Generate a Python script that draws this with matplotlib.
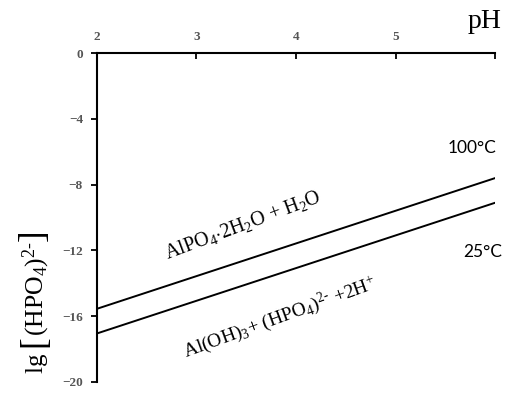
import matplotlib
matplotlib.use("Agg")
import matplotlib.pyplot as plt

# data
ph = [2, 6]
lg_100 = [-15.55, -7.6]
lg_25 = [-17.05, -9.1]
xticks = [2, 3, 4, 5, 6]
xticklabels = ["2", "3", "4", "5", ""]
yticks = [0, -4, -8, -12, -16, -20]

plt.rcParams['mathtext.fontset'] = 'custom'
plt.rcParams['mathtext.rm'] = 'Liberation Serif'
plt.rcParams['mathtext.it'] = 'Liberation Serif:italic'
plt.rcParams['font.family'] = 'Liberation Serif'

W, H = 510, 393
fig = plt.figure(figsize=(W / 100, H / 100), dpi=100)
ax = fig.add_axes([0.190, 0.028, 0.781, 0.837])

ax.plot(ph, lg_100, color='black', lw=1.4)
ax.plot(ph, lg_25, color='black', lw=1.4)

ax.set_xlim(2, 6)
ax.set_ylim(-20, 0)
ax.spines['right'].set_visible(False)
ax.spines['bottom'].set_visible(False)
ax.spines['left'].set_linewidth(1.5)
ax.spines['top'].set_linewidth(1.5)

ax.xaxis.tick_top()
ax.set_xticks(xticks)
ax.set_xticklabels(xticklabels)
ax.set_yticks(yticks)
ax.tick_params(axis='x', direction='in', length=4, width=1.3, pad=7,
               labelsize=9.5, labelcolor='#555555')
ax.tick_params(axis='y', direction='out', length=4, width=1.3, pad=6,
               labelsize=9.5, labelcolor='#555555')
for t in ax.get_xticklabels() + ax.get_yticklabels():
    t.set_fontweight('bold')

fig.text(485 / W, 1 - 21 / H, "pH", fontsize=20, ha='center', va='center')

# y label built from pieces so the square brackets can be taller
renderer = fig.canvas.get_renderer()
pieces = [("lg ", 18), ("[", 25), (r'(HPO$_4$)$^{2\text{-}}$', 18.5), ("]", 25)]
ypos = 373
for s, fs in pieces:
    t = fig.text(43 / W, 1 - ypos / H, s, fontsize=fs, rotation=90,
                 rotation_mode='anchor', ha='left', va='baseline')
    ypos -= t.get_window_extent(renderer).height

ax.text(5.77, -5.8, "100\u00b0C", family='Lato', fontsize=12.5, ha='center', va='center')
ax.text(5.87, -12.1, "25\u00b0C", family='Lato', fontsize=12.5, ha='center', va='center')

ax.text(3.47, -10.45, r'AlPO$_4$$\cdot$2H$_2$O + H$_2$O', fontsize=14.5,
        rotation=20.5, ha='center', va='center')
ax.text(3.84, -16.1, r'Al(OH)$_3$+ (HPO$_4$)$^{2\text{-}}$ +2H$^{+}$', fontsize=14,
        rotation=20, ha='center', va='center')

fig.savefig("out.png", dpi=100)
